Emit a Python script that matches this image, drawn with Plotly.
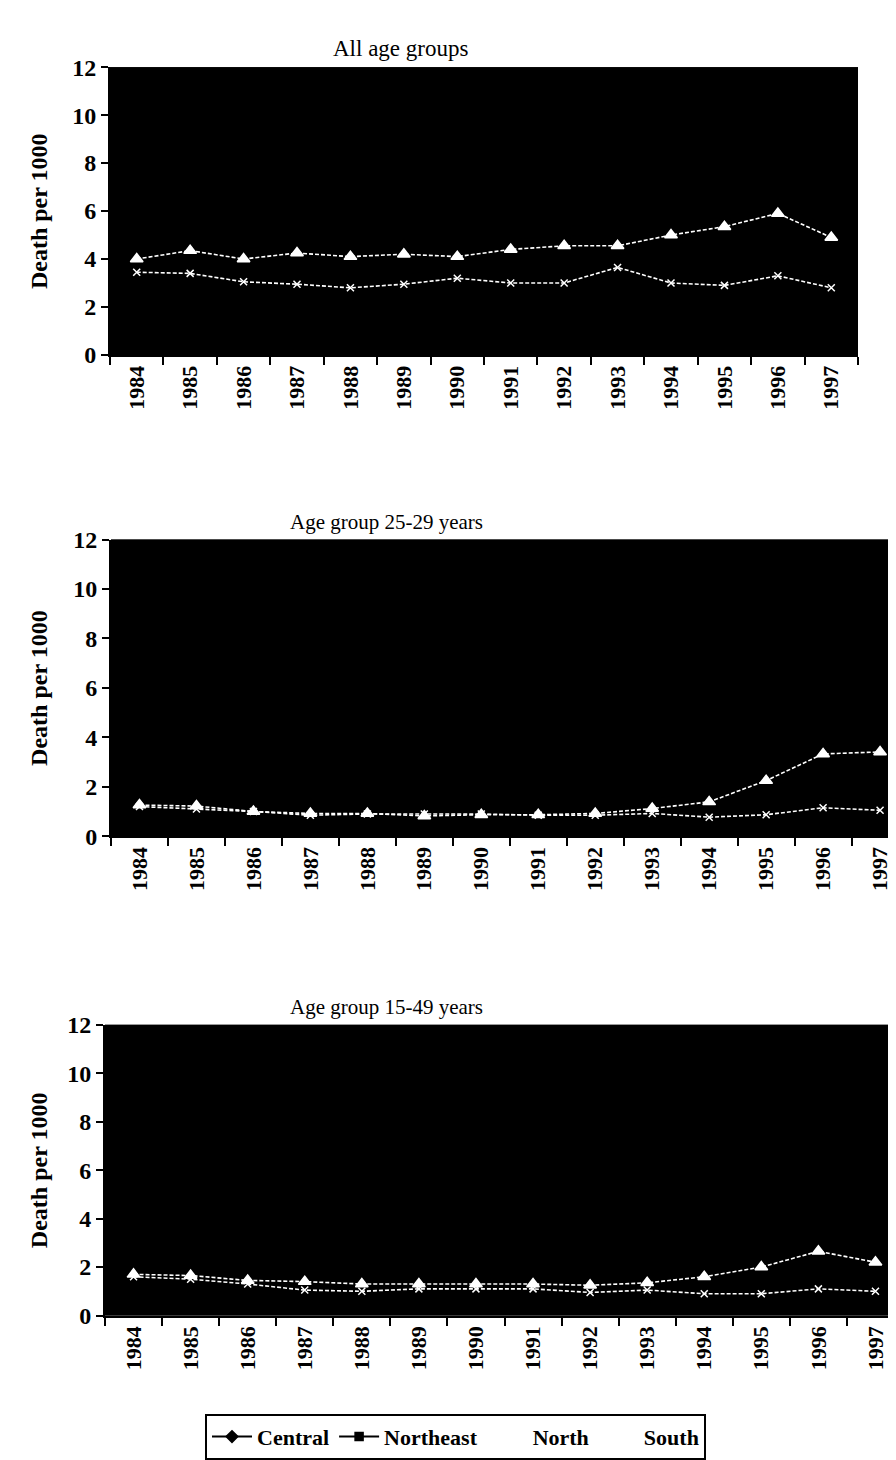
import plotly.graph_objects as go

years = ["1984", "1985", "1986", "1987", "1988", "1989", "1990",
         "1991", "1992", "1993", "1994", "1995", "1996", "1997"]
series_names = ["Central", "Northeast", "North", "South"]
panel_titles = ["All age groups", "Age group 25-29 years", "Age group 15-49 years"]
y_ticks = [0, 2, 4, 6, 8, 10, 12]

# All age groups
all_central = [3.1, 3.2, 2.9, 2.8, 2.7, 2.8, 2.9, 2.8, 2.8, 3.2, 2.8, 2.7, 3.0, 2.6]
all_northeast = [3.6, 3.8, 3.5, 3.6, 3.5, 3.6, 3.6, 3.7, 3.8, 4.0, 4.2, 4.4, 4.7, 4.1]
all_north = [4.0, 4.35, 4.0, 4.25, 4.1, 4.2, 4.1, 4.4, 4.55, 4.55, 5.0, 5.35, 5.9, 4.9]
all_south = [3.45, 3.4, 3.05, 2.95, 2.8, 2.95, 3.2, 3.0, 3.0, 3.65, 3.0, 2.9, 3.3, 2.8]

# Age group 25-29
g25_central = [1.0, 0.9, 0.8, 0.7, 0.7, 0.7, 0.7, 0.7, 0.7, 0.8, 0.7, 0.7, 0.9, 0.8]
g25_northeast = [1.1, 1.0, 0.9, 0.8, 0.8, 0.8, 0.8, 0.8, 0.8, 0.9, 1.0, 1.4, 2.0, 2.1]
g25_north = [1.26, 1.22, 1.0, 0.92, 0.92, 0.82, 0.87, 0.87, 0.92, 1.12, 1.39, 2.25, 3.33, 3.41]
g25_south = [1.2, 1.1, 1.0, 0.85, 0.9, 0.9, 0.9, 0.85, 0.85, 0.92, 0.77, 0.87, 1.15, 1.05]

# Age group 15-49
g15_central = [1.3, 1.2, 1.1, 0.9, 0.9, 0.9, 0.9, 0.9, 0.8, 0.9, 0.8, 0.8, 0.9, 0.8]
g15_northeast = [1.5, 1.4, 1.3, 1.2, 1.1, 1.2, 1.2, 1.2, 1.1, 1.2, 1.3, 1.5, 1.9, 1.7]
g15_north = [1.7, 1.65, 1.45, 1.4, 1.3, 1.3, 1.3, 1.3, 1.25, 1.35, 1.6, 2.0, 2.65, 2.2]
g15_south = [1.6, 1.5, 1.3, 1.05, 1.0, 1.1, 1.1, 1.1, 0.95, 1.05, 0.9, 0.9, 1.1, 1.0]

panels = [
    [all_central, all_northeast, all_north, all_south],
    [g25_central, g25_northeast, g25_north, g25_south],
    [g15_central, g15_northeast, g15_north, g15_south],
]

W, H = 896, 1460
# pixel boxes: (left, right, top, bottom)
boxes = [(102, 850, 47, 340), (103, 896, 528, 830), (97, 896, 1022, 1318)]
xranges = [[-0.5, 13.5], [-0.5, 13.42], [-0.5, 13.5]]
title_cx = [392, 378, 378]
title_sizes = [23, 21, 21]

styles = {
    "Central": dict(color="black", symbol="diamond", size=9, lw=2, dash="solid"),
    "Northeast": dict(color="black", symbol="square", size=8, lw=2, dash="solid"),
    "North": dict(color="white", symbol="triangle-up", size=11, lw=1.6, dash="4px,2px"),
    "South": dict(color="white", symbol="x-thin-open", size=7, lw=1.6, dash="4px,2px"),
}

SERIF = "Liberation Serif"
fig = go.Figure()
layout_axes = {}
annotations = []

for i, (data, box) in enumerate(zip(panels, boxes)):
    L, R, T, B = box
    xa = "x" if i == 0 else f"x{i+1}"
    ya = "y" if i == 0 else f"y{i+1}"
    for name, vals in zip(series_names, data):
        s = styles[name]
        fig.add_trace(go.Scatter(
            x=years, y=vals, name=name, mode="lines+markers",
            xaxis=xa, yaxis=ya, showlegend=(i == 0),
            line=dict(color=s["color"], width=s["lw"], dash=s["dash"]),
            marker=dict(symbol=s["symbol"], size=s["size"], color=s["color"],
                        line=dict(color=s["color"], width=1.5)),
        ))
    xkey = "xaxis" if i == 0 else f"xaxis{i+1}"
    ykey = "yaxis" if i == 0 else f"yaxis{i+1}"
    layout_axes[xkey] = dict(
        domain=[L / W, R / W], anchor=ya, type="category",
        categoryorder="array", categoryarray=years, range=xranges[i],
        tickangle=-90, ticks="outside", ticklen=8, tickwidth=2, tickcolor="black",
        tickson="boundaries", showline=True, linecolor="black", linewidth=2,
        showgrid=False, zeroline=False,
        tickfont=dict(family=SERIF, size=22, color="black", weight="bold"),
    )
    layout_axes[ykey] = dict(
        domain=[1 - B / H, 1 - T / H], anchor=xa, range=[0, 12],
        tickvals=y_ticks, ticks="outside", ticklen=7, tickwidth=2, tickcolor="black",
        showline=True, linecolor="black", linewidth=2, showgrid=False, zeroline=False,
        tickfont=dict(family=SERIF, size=24, color="black", weight="bold"),
    )
    annotations.append(dict(
        text=panel_titles[i], xref="paper", yref="paper",
        x=title_cx[i] / W, y=1 - (T - 4) / H, xanchor="center", yanchor="bottom",
        showarrow=False, font=dict(family=SERIF, size=title_sizes[i], color="black"),
    ))
    annotations.append(dict(
        text="Death per 1000", xref="paper", yref="paper",
        x=31 / W, y=1 - (T + B) / 2 / H, xanchor="center", yanchor="middle",
        textangle=-90, showarrow=False,
        font=dict(family=SERIF, size=24, color="black", weight="bold"),
    ))

shapes = []
for i, box in enumerate(boxes):
    L, R, T, B = box
    shapes.append(dict(type="rect", xref="paper", yref="paper", layer="below",
                       x0=L / W, x1=R / W, y0=1 - B / H, y1=1 - T / H,
                       fillcolor="black", line=dict(width=0)))

fig.update_layout(
    width=W, height=H, margin=dict(l=0, r=0, t=0, b=0),
    paper_bgcolor="white", plot_bgcolor="black",
    annotations=annotations, shapes=shapes,
    legend=dict(orientation="h", x=197 / W, y=1 - 1418 / H, xanchor="left", yanchor="top",
                bordercolor="black", borderwidth=2, bgcolor="white",
                font=dict(family=SERIF, size=22, color="black", weight="bold"),
                itemwidth=40, tracegroupgap=0),
    **layout_axes,
)

fig.write_html("out.html")
